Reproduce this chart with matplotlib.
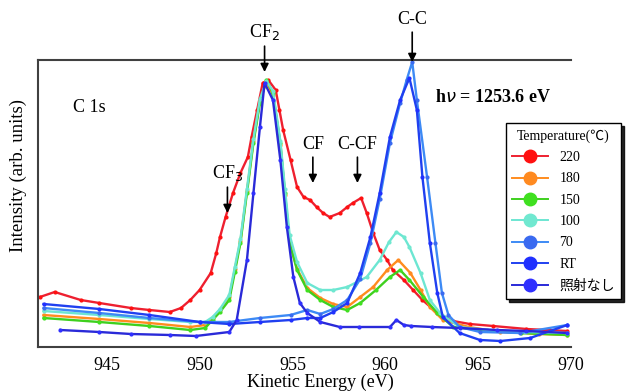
import matplotlib
matplotlib.use("Agg")
import matplotlib.pyplot as plt
from matplotlib.lines import Line2D

plt.rcParams['font.family'] = ['Liberation Serif', 'Noto Sans CJK JP', 'DejaVu Sans']

# C 1s spectra, kinetic energy (eV) vs intensity (arb. units)
temps = ['220', '180', '150', '100', '70', 'RT', '照射なし']

e_220 = [941.4, 942.2, 943.6, 944.6, 946.3, 947.3, 948.4, 949.0, 949.5, 950.0, 950.6, 950.9,
         951.1, 951.4, 951.8, 952.2, 952.6, 952.8, 953.1, 953.4, 953.7, 954.1, 954.3, 954.5,
         954.9, 955.25, 955.6, 955.95, 956.3, 956.65, 957.0, 957.55, 957.95, 958.25, 958.7,
         959.0, 959.35, 959.7, 960.1, 960.4, 961.0, 961.5, 962.0, 962.8, 963.65, 964.55,
         965.8, 967.6, 969.8]
i_220 = [50, 55, 47, 44, 39, 37, 35, 39, 47, 57, 74, 94,
         110, 130, 154, 174, 190, 210, 237, 264, 267, 257, 237, 217,
         187, 160, 150, 147, 140, 134, 130, 134, 140, 144, 149,
         134, 114, 97, 87, 77, 67, 57, 47, 34, 26, 23,
         21, 18, 16]

e_180 = [941.6, 944.6, 947.3, 949.5, 950.3, 950.7, 951.1, 951.6, 951.9, 952.2, 952.55, 952.9,
         953.25, 953.6, 953.95, 954.35, 954.6, 954.85, 955.25, 955.8, 956.5, 957.2, 957.95,
         958.65, 959.35, 960.1, 960.7, 961.35, 961.9, 962.4, 963.1, 964.5, 966.2, 968.3, 969.8]
i_180 = [32, 28, 24, 20, 22, 29, 37, 50, 78, 106, 156, 206,
         246, 265, 252, 202, 152, 104, 78, 59, 49, 43, 40,
         50, 60, 77, 87, 74, 57, 40, 27, 20, 15, 13, 12]

e_150 = [941.6, 944.6, 947.3, 949.5, 950.3, 950.7, 951.1, 951.6, 951.9, 952.2, 952.55, 952.9,
         953.25, 953.6, 953.95, 954.35, 954.6, 954.85, 955.25, 955.8, 956.5, 957.2, 957.95,
         958.65, 959.5, 960.25, 960.8, 961.3, 962.05, 962.8, 963.65, 965.1, 967.3, 969.8]
i_150 = [29, 25, 21, 17, 19, 27, 35, 47, 75, 104, 154, 204,
         244, 267, 254, 204, 154, 104, 77, 57, 47, 40, 37,
         44, 57, 70, 77, 67, 50, 34, 20, 17, 14, 12]

e_100 = [941.6, 944.6, 947.3, 949.5, 950.3, 950.7, 951.1, 951.6, 951.9, 952.2, 952.55, 952.9,
         953.25, 953.6, 953.95, 954.35, 954.6, 954.85, 955.25, 955.8, 956.5, 957.2, 957.95,
         959.0, 959.7, 960.2, 960.6, 961.0, 961.3, 961.9, 962.4, 962.95, 964.0, 965.5, 967.5, 969.8]
i_100 = [36, 32, 28, 25, 25, 30, 38, 52, 80, 108, 158, 208,
         248, 266, 256, 206, 158, 112, 85, 64, 57, 57, 60,
         70, 87, 105, 115, 110, 100, 74, 47, 34, 20, 17, 15, 14]

e_70 = [941.6, 944.6, 947.3, 950.0, 951.6, 953.25, 954.9, 955.8, 956.5, 957.2, 957.95, 958.65,
        959.2, 959.7, 960.25, 960.8, 961.15, 961.45, 961.7, 962.25, 962.7, 963.05, 963.4,
        964.0, 965.1, 967.25, 969.8]
i_70 = [39, 34, 29, 25, 25, 29, 32, 37, 33, 38, 47, 68,
        104, 148, 204, 244, 267, 285, 247, 170, 104, 54, 32,
        20, 15, 14, 22]

e_rt = [941.6, 944.6, 947.3, 950.0, 951.6, 953.25, 954.9, 955.8, 956.5, 957.2, 957.95, 958.65,
        959.2, 959.7, 960.25, 960.8, 961.3, 961.7, 962.0, 962.4, 962.8, 963.1, 964.0, 965.1,
        966.2, 967.8, 969.8]
i_rt = [43, 38, 32, 25, 23, 25, 27, 29, 29, 35, 44, 74,
        110, 154, 210, 247, 269, 237, 170, 104, 54, 30, 14, 7,
        6, 9, 22]

e_none = [942.5, 944.6, 946.3, 948.4, 949.8, 951.6, 952.0, 952.55, 952.9, 953.25, 953.5, 953.95,
          954.35, 954.7, 955.05, 955.4, 955.8, 956.5, 957.55, 958.6, 960.25, 960.6, 961.0,
          961.4, 962.5, 964.0, 966.0, 967.6, 969.8]
i_none = [17, 15, 13, 12, 11, 15, 27, 87, 154, 220, 264, 247,
          187, 120, 70, 44, 34, 25, 20, 20, 20, 27, 22,
          21, 20, 19, 17, 16, 14]

energies = [e_220, e_180, e_150, e_100, e_70, e_rt, e_none]
intensities = [i_220, i_180, i_150, i_100, i_70, i_rt, i_none]
line_colors = ['#ee2030', '#ff8c1e', '#3ed01e', '#6ce6d2', '#3d8af5', '#2040f0', '#2a2ad8']
marker_colors = ['#ff1010', '#ff8a20', '#40e020', '#70e8d0', '#3a6af0', '#2030ff', '#3030ff']

fig = plt.figure(figsize=(6.26, 3.92), dpi=100)
ax = fig.add_axes([38/626, 1-347/392, 533/626, 287/392])

for e, i, lc, mc in zip(energies, intensities, line_colors, marker_colors):
    ax.plot(e, i, color=lc, lw=1.7, marker='o', ms=2.0, mfc=mc, mec=mc)

ax.set_xlim(941.3, 970)
ax.set_ylim(0, 287)
ax.set_yticks([])
ax.set_xticks([945, 950, 955, 960, 965, 970])
ax.tick_params(axis='x', length=0, labelsize=13, pad=7)
ax.spines['right'].set_visible(False)
for s in ['left', 'top', 'bottom']:
    ax.spines[s].set_color('#404040')
    ax.spines[s].set_linewidth(1.5)

fig.text(320/626, 1-382/392, 'Kinetic Energy (eV)', ha='center', va='center', fontsize=13)
fig.text(18/626, 1-175/392, 'Intensity (arb. units)', ha='center', va='center',
         rotation=90, fontsize=13.5)
fig.text(73/626, 1-108/392, 'C 1s', ha='left', va='center', fontsize=13)
fig.text(435/626, 1-98/392, r'h$\nu$ = 1253.6 eV', ha='left', va='center',
         fontsize=13, fontweight='bold')

arrow = dict(arrowstyle='-|>', color='black', lw=1.2, mutation_scale=12, shrinkA=1, shrinkB=0)
peaks = [('CF$_2$', 953.5, 275, 305),
         ('C-C', 961.45, 285, 319),
         ('CF', 956.1, 164, 194),
         ('C-CF', 958.5, 164, 194),
         ('CF$_3$', 951.5, 134, 164)]
for name, x, tip, start in peaks:
    ax.annotate(name, xy=(x, tip), xytext=(x, start), ha='center', va='bottom',
                fontsize=13, arrowprops=arrow, annotation_clip=False)

handles = [Line2D([], [], color=lc, lw=1.4, marker='o', ms=9, mfc=mc, mec=mc)
           for lc, mc in zip(line_colors, marker_colors)]
leg = fig.legend(handles, temps, title='Temperature(℃)', loc='upper left',
                 bbox_to_anchor=(506/626, 1-123/392), borderaxespad=0,
                 fontsize=10, title_fontsize=10,
                 frameon=True, fancybox=False, edgecolor='black', handlelength=2.6,
                 labelspacing=0.6, borderpad=0.45, shadow={'color': 'black', 'alpha': 0.85})
leg.get_frame().set_linewidth(1.0)

fig.savefig('out.png', dpi=100)
